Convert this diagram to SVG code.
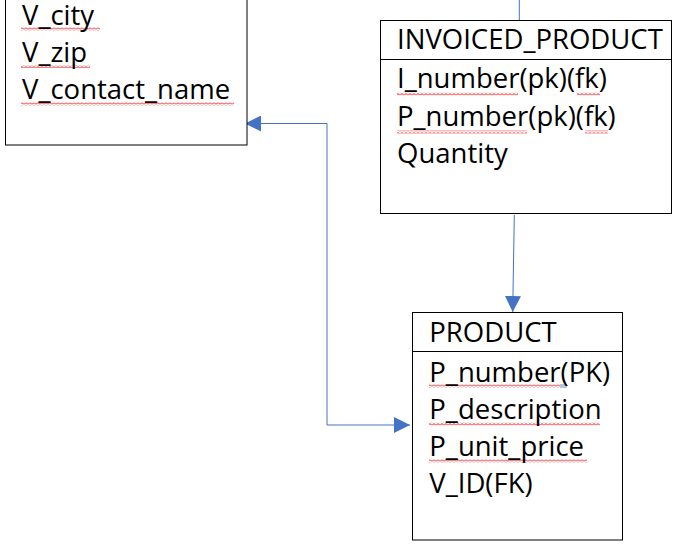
<svg xmlns="http://www.w3.org/2000/svg" width="689" height="545" viewBox="0 0 689 545">
<style>
.box{fill:#fff;stroke:#000;stroke-width:1}
.sep{stroke:#000;stroke-width:1}
.t{font-family:"Open Sans","Noto Sans","DejaVu Sans",sans-serif;font-size:27.5px;fill:#000}
.conn{fill:none;stroke:#4472C4;stroke-width:1}
.sq{fill:url(#squig)}
</style>
<defs>
<pattern id="squig" patternUnits="userSpaceOnUse" x="0" y="0" width="4" height="3">
<path d="M0 2.5 L2 0.5 L4 2.5" fill="none" stroke="#ff0000" stroke-width="1"/>
</pattern>
<marker id="arr" markerUnits="userSpaceOnUse" markerWidth="16" markerHeight="16" viewBox="0 0 15 15" refX="15" refY="7.5" orient="auto-start-reverse">
<path d="M0,0 L15,7.5 L0,15 Z" fill="#4472C4"/>
</marker>
</defs>
<g id="connectors">
<path class="conn" d="M245,123.5 H327 V425 H410" marker-start="url(#arr)" marker-end="url(#arr)"/>
<path class="conn" d="M514.3,215 L512.7,312" marker-end="url(#arr)"/>
<path class="conn" d="M519.3,0 V20.5"/>
</g>
<g id="vendor">
<rect class="box" x="5.5" y="-10" width="241.5" height="155"/>
<rect class="sq" x="21" y="27.5" width="79" height="3"/>
<rect class="sq" x="21" y="65" width="69" height="3"/>
<rect class="sq" x="21" y="102.5" width="213" height="3"/>
<text class="t" x="22" y="25">V_city</text>
<text class="t" x="22" y="62">V_zip</text>
<text class="t" x="22" y="99">V_contact_name</text>
</g>
<g id="invoiced_product">
<rect class="box" x="380.5" y="20.5" width="291" height="193"/>
<line class="sep" x1="380.5" y1="59.5" x2="671.5" y2="59.5"/>
<text class="t" x="397" y="49.3">INVOICED_PRODUCT</text>
<rect class="sq" x="397" y="92.5" width="121" height="3"/>
<rect class="sq" x="577" y="92.5" width="23" height="3"/>
<rect class="sq" x="397" y="130.5" width="130" height="3"/>
<rect class="sq" x="585" y="130.5" width="23" height="3"/>
<text class="t" x="397" y="87.7">I_number(pk)(fk)</text>
<text class="t" x="397" y="126">P_number(pk)(fk)</text>
<text class="t" x="397" y="163">Quantity</text>
</g>
<g id="product">
<rect class="box" x="412.5" y="312.5" width="210" height="227.5"/>
<line class="sep" x1="412.5" y1="351.5" x2="622.5" y2="351.5"/>
<text class="t" x="429.3" y="341.7">PRODUCT</text>
<rect class="sq" x="429" y="384.5" width="131" height="3"/>
<line x1="560" y1="385" x2="567" y2="385" stroke="#4472C4" stroke-width="0.8"/>
<line x1="560" y1="387" x2="567" y2="387" stroke="#4472C4" stroke-width="0.8"/>
<rect class="sq" x="429" y="422.5" width="171" height="3"/>
<rect class="sq" x="429" y="459.5" width="158" height="3"/>
<text class="t" x="429.3" y="381.7">P_number(PK)</text>
<text class="t" x="429.3" y="419">P_description</text>
<text class="t" x="429.3" y="456">P_unit_price</text>
<text class="t" x="429.3" y="493">V_ID(FK)</text>
</g>
</svg>
